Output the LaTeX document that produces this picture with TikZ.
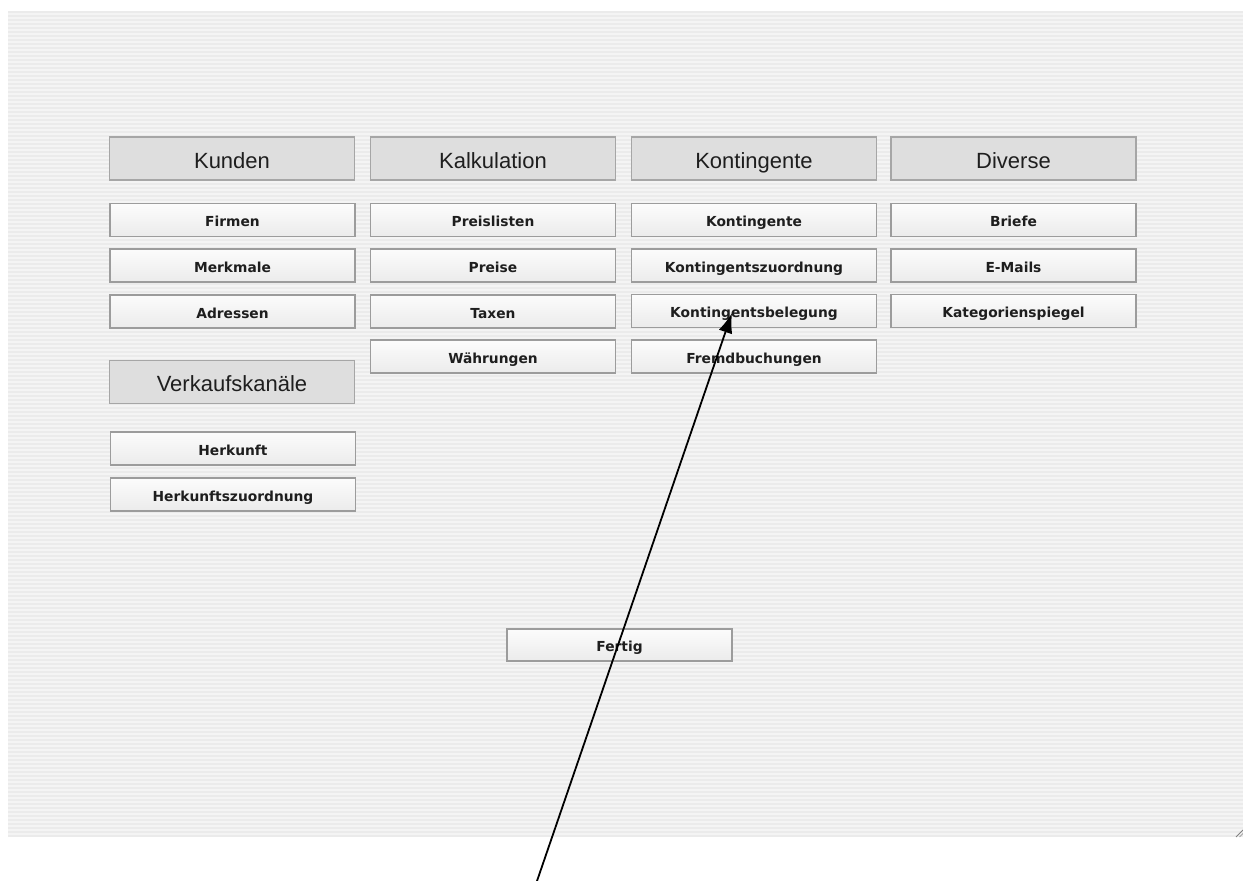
\documentclass[tikz,border=0pt]{standalone}
\usepackage{fontspec}
\setmainfont{Liberation Sans}
\newfontfamily\btnfont{DejaVu Sans}
\usetikzlibrary{arrows.meta}
\definecolor{panelbg}{HTML}{F4F4F4}
\definecolor{stripe}{HTML}{EBEBEB}
\definecolor{hdrfill}{HTML}{DEDEDE}
\definecolor{hdrborder}{HTML}{A6A6A6}
\definecolor{btnborder}{HTML}{9C9C9C}
\definecolor{btntop}{HTML}{FCFCFC}
\definecolor{btnbot}{HTML}{EBEBEB}
\definecolor{txt}{HTML}{1E1E1E}
\tikzset{
  hdr/.style={draw=hdrborder, line width=1.2pt, fill=hdrfill, minimum width=245pt, minimum height=43pt,
    inner sep=0pt, text height=21pt, text depth=2pt, text=txt, font=\fontsize{22}{24}\selectfont},
  btn/.style={draw=btnborder, line width=1.2pt, top color=btntop, bottom color=btnbot, minimum width=245pt,
    minimum height=33pt, inner sep=0pt, text height=14.5pt, text depth=1.5pt, text=txt,
    font=\btnfont\bfseries\fontsize{13.8}{16}\selectfont},
  pointer/.style={-{Latex[length=20pt,width=14pt]}, line width=1.8pt, black}
}
\begin{document}
\begin{tikzpicture}[x=1pt,y=-1pt]
\useasboundingbox (0,0) rectangle (1243,881);
\fill[white] (0,0) rectangle (1243,881);
% striped panel
\fill[panelbg] (8,11) rectangle (1243,837);
\begin{scope}
\clip (8,11) rectangle (1243,837);
\foreach \i in {0,...,206} {
  \fill[stripe] (8,11+4*\i) rectangle (1243,13+4*\i);
}
\end{scope}
% resize grip
\draw[gray, line width=0.8pt] (1236,837) -- (1243,830);
\draw[gray!70, line width=0.8pt] (1239.5,837) -- (1243,833.5);
% headers
\node[hdr] (kunden) at (232,158.5) {Kunden};
\node[hdr] (kalk) at (493,158.5) {Kalkulation};
\node[hdr] (konth) at (754,158.5) {Kontingente};
\node[hdr] (div) at (1013.5,158.5) {Diverse};
\node[hdr] (vk) at (232,382) {Verkaufskanäle};
% column 1
\node[btn] (firmen) at (232.5,220) {Firmen};
\node[btn] (merkmale) at (232.5,265.5) {Merkmale};
\node[btn] (adressen) at (232.5,311.5) {Adressen};
\node[btn] (herkunft) at (233,448.5) {Herkunft};
\node[btn] (herkz) at (233,494.5) {Herkunftszuordnung};
% column 2
\node[btn] (preislisten) at (493,220) {Preislisten};
\node[btn] (preise) at (493,265.5) {Preise};
\node[btn] (taxen) at (493,311.5) {Taxen};
\node[btn] (waehrungen) at (493,356.5) {Währungen};
% column 3
\node[btn] (kont) at (754,220) {Kontingente};
\node[btn] (kontz) at (754,265.5) {Kontingentszuordnung};
\node[btn] (kontb) at (754,311) {Kontingentsbelegung};
\node[btn] (fremd) at (754,356.5) {Fremdbuchungen};
% column 4
\node[btn] (briefe) at (1013.5,220) {Briefe};
\node[btn] (emails) at (1013.5,265.5) {E-Mails};
\node[btn] (katsp) at (1013.5,311) {Kategorienspiegel};
% Fertig
\node[btn, minimum width=225pt, minimum height=32pt] (fertig) at (619.5,645) {Fertig};
% pointer arrow
\coordinate (tail) at (537,881);
\coordinate (tip) at (732,313);
\draw[pointer] (tail) -- (tip);
\end{tikzpicture}
\end{document}
